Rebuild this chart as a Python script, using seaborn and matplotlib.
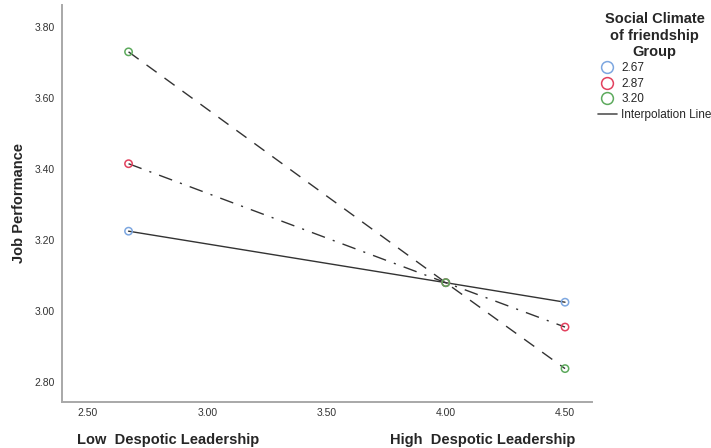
import numpy as np
import pandas as pd
import matplotlib.pyplot as plt
from matplotlib.lines import Line2D
import seaborn as sns

# values
leadership = [2.67, 4.00, 4.50]
climate_levels = ["2.67", "2.87", "3.20"]
perf_267 = [3.225, 3.080, 3.025]
perf_287 = [3.415, 3.080, 2.955]
perf_320 = [3.730, 3.080, 2.838]
x_ticks = [2.50, 3.00, 3.50, 4.00, 4.50]
y_ticks = [2.80, 3.00, 3.20, 3.40, 3.60, 3.80]

sns.set_theme(style='white')
plt.rcParams['font.family'] = ['Liberation Sans', 'DejaVu Sans']

colors = {"2.67": "#7da7e0", "2.87": "#e2415e", "3.20": "#5daa5d"}
dashes = {"2.67": "-", "2.87": (0, (10, 6, 1.5, 6)), "3.20": (0, (9, 7))}

rows = []
for lvl, vals in zip(climate_levels, [perf_267, perf_287, perf_320]):
    for x, y in zip(leadership, vals):
        rows.append({"Leadership": x, "Performance": y, "Climate": lvl})
df = pd.DataFrame(rows)

fig = plt.figure(figsize=(7.11, 4.48), dpi=100)
ax = fig.add_axes([0.0872, 0.1027, 0.7454, 0.8862])

for lvl in climate_levels:
    sub = df[df.Climate == lvl]
    sns.lineplot(data=sub, x="Leadership", y="Performance", ax=ax, color="#333333",
                 linewidth=1.0, linestyle=dashes[lvl], legend=False)
for lvl in climate_levels:
    sub = df[df.Climate == lvl]
    sns.scatterplot(data=sub, x="Leadership", y="Performance", ax=ax, s=28,
                    facecolor="none", edgecolor=colors[lvl], linewidth=1.1,
                    legend=False, zorder=3)

ax.set_xlim(2.391, 4.613)
ax.set_ylim(2.744, 3.862)
ax.set_xticks(x_ticks)
ax.set_yticks(y_ticks)
ax.set_xticklabels([f"{v:.2f}" for v in x_ticks], fontsize=7.5, color="#333333")
ax.set_yticklabels([f"{v:.2f}" for v in y_ticks], fontsize=7.5, color="#333333")
ax.tick_params(axis="x", length=0, pad=4)
ax.tick_params(axis="y", length=0, pad=5)
ax.set_xlabel("")
ax.set_ylabel("")
for side in ["top", "right"]:
    ax.spines[side].set_visible(False)
for side in ["left", "bottom"]:
    ax.spines[side].set_color("#a8a8a8")
    ax.spines[side].set_linewidth(1.4)

fig.text(0.027, 0.547, "Job Performance", fontsize=10.5, fontweight="bold",
         rotation=90, ha="center", va="center")
fig.text(0.108, 0.002, "Low  Despotic Leadership", fontsize=10.5, fontweight="bold", va="bottom")
fig.text(0.548, 0.002, "High  Despotic Leadership", fontsize=10.5, fontweight="bold", va="bottom")

handles = [Line2D([], [], marker="o", linestyle="none", markersize=8.5,
                  markerfacecolor="none", markeredgecolor=colors[l], markeredgewidth=1.1)
           for l in climate_levels]
handles.append(Line2D([], [], color="#555555", linewidth=1.2))
labels = climate_levels + ["Interpolation Line"]
leg = fig.legend(handles, labels, loc="upper left", bbox_to_anchor=(0.834, 0.983),
                 frameon=False, fontsize=8.5, handlelength=1.6, handletextpad=0.4,
                 labelspacing=0.3, borderaxespad=0,
                 title="Social Climate\nof friendship\nGroup",
                 title_fontproperties={"weight": "bold", "size": 10.5})
leg.get_title().set_multialignment("center")

fig.savefig("out.png", dpi=100)
